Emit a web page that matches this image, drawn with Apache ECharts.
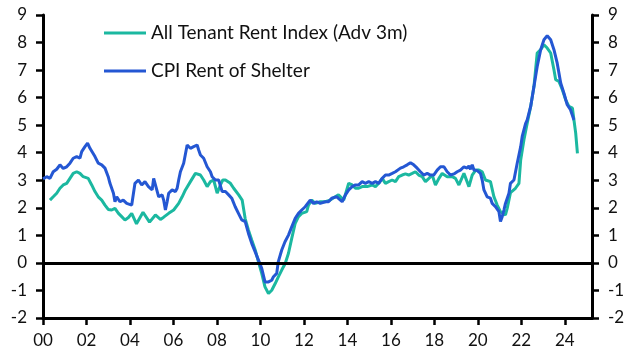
<!DOCTYPE html>
<html>
<head>
<meta charset="utf-8">
<script src="https://cdn.jsdelivr.net/npm/echarts@6/dist/echarts.min.js"></script>
<style>
html,body{margin:0;padding:0;background:#fff;}
#chart{width:631px;height:357px;}
</style>
</head>
<body>
<div id="chart"></div>
<script>
// All Tenant Rent Index (Adv 3m) — [fractional year] and values (%)
const tenantDates = [2000.32,2000.47,2000.63,2000.78,2000.93,2001.09,2001.24,2001.39,2001.55,2001.70,2001.85,2002.08,2002.24,2002.39,2002.54,2002.70,2002.85,2003.00,2003.16,2003.31,2003.47,2003.62,2003.77,2003.93,2004.08,2004.30,2004.60,2004.90,2005.17,2005.40,2005.55,2005.78,2006.01,2006.24,2006.40,2006.55,2006.78,2007.01,2007.09,2007.24,2007.39,2007.55,2007.70,2007.85,2008.01,2008.08,2008.16,2008.27,2008.39,2008.62,2008.77,2009.00,2009.16,2009.30,2009.45,2009.60,2009.76,2009.91,2010.06,2010.21,2010.37,2010.52,2010.68,2010.83,2010.98,2011.14,2011.29,2011.44,2011.60,2011.75,2011.90,2012.13,2012.21,2012.36,2012.52,2012.75,2012.98,2013.21,2013.44,2013.59,2013.83,2014.06,2014.22,2014.37,2014.52,2014.68,2014.91,2015.14,2015.29,2015.44,2015.60,2015.75,2015.90,2016.06,2016.21,2016.36,2016.52,2016.67,2016.82,2016.98,2017.13,2017.28,2017.44,2017.59,2017.75,2017.90,2018.05,2018.21,2018.36,2018.59,2018.82,2018.97,2019.13,2019.36,2019.59,2019.74,2019.90,2020.05,2020.20,2020.35,2020.58,2020.74,2020.89,2021.04,2021.27,2021.35,2021.50,2021.73,2021.89,2021.97,2022.12,2022.27,2022.43,2022.58,2022.73,2022.89,2023.04,2023.19,2023.35,2023.50,2023.58,2023.73,2023.89,2024.04,2024.19,2024.35,2024.42,2024.50,2024.58];
const tenantValues = [2.28,2.40,2.53,2.71,2.83,2.89,3.07,3.25,3.31,3.25,3.13,3.07,2.83,2.59,2.40,2.28,2.10,1.94,1.92,1.98,1.80,1.68,1.56,1.65,1.80,1.42,1.84,1.48,1.74,1.58,1.66,1.80,1.92,2.16,2.40,2.65,2.95,3.25,3.31,3.19,3.01,2.77,2.95,3.01,2.53,2.47,2.83,3.01,3.01,2.89,2.71,2.47,2.28,1.60,1.19,0.83,0.47,0.04,-0.38,-0.87,-1.11,-0.99,-0.75,-0.50,-0.26,-0.02,0.35,0.89,1.44,1.68,1.80,1.86,2.10,2.28,2.16,2.22,2.22,2.28,2.40,2.47,2.28,2.89,2.83,2.71,2.71,2.77,2.77,2.83,2.77,2.89,3.07,2.89,2.95,3.01,2.95,3.13,3.19,3.23,3.19,3.25,3.31,3.19,3.13,2.95,3.07,3.19,2.83,3.07,3.25,3.13,3.13,3.07,2.83,3.25,2.77,3.19,3.37,3.37,3.31,3.01,2.95,2.40,2.10,1.86,1.74,1.98,2.55,2.71,2.89,3.74,4.47,5.07,5.68,6.40,7.62,7.74,7.92,7.80,7.62,7.01,6.65,6.59,6.28,5.92,5.68,5.62,5.19,4.71,3.98];

// CPI Rent of Shelter
const cpiDates = [2000.00,2000.17,2000.32,2000.47,2000.63,2000.78,2000.93,2001.09,2001.24,2001.39,2001.55,2001.62,2001.70,2001.78,2001.93,2002.05,2002.16,2002.24,2002.39,2002.54,2002.70,2002.85,2003.00,2003.08,2003.24,2003.31,2003.39,2003.54,2003.69,2003.85,2004.08,2004.23,2004.39,2004.54,2004.69,2004.85,2005.02,2005.09,2005.17,2005.32,2005.48,2005.55,2005.63,2005.71,2005.78,2005.94,2006.09,2006.17,2006.24,2006.32,2006.47,2006.63,2006.78,2006.93,2007.09,2007.16,2007.24,2007.39,2007.55,2007.70,2007.78,2007.93,2008.08,2008.24,2008.39,2008.54,2008.68,2008.84,2008.99,2009.14,2009.30,2009.45,2009.60,2009.76,2009.91,2010.06,2010.21,2010.37,2010.52,2010.60,2010.75,2010.82,2010.98,2011.13,2011.29,2011.44,2011.60,2011.75,2011.90,2012.06,2012.29,2012.44,2012.59,2012.75,2012.98,2013.13,2013.28,2013.51,2013.76,2013.91,2014.06,2014.22,2014.37,2014.52,2014.68,2014.83,2014.98,2015.14,2015.29,2015.44,2015.60,2015.75,2015.90,2016.06,2016.21,2016.29,2016.44,2016.59,2016.75,2016.90,2017.05,2017.21,2017.36,2017.51,2017.67,2017.82,2017.97,2018.13,2018.28,2018.44,2018.59,2018.74,2018.90,2019.05,2019.20,2019.36,2019.51,2019.59,2019.66,2019.74,2019.82,2019.97,2020.12,2020.20,2020.28,2020.43,2020.58,2020.66,2020.81,2020.97,2021.04,2021.12,2021.20,2021.27,2021.43,2021.50,2021.66,2021.81,2021.97,2022.04,2022.20,2022.27,2022.43,2022.58,2022.73,2022.89,2023.04,2023.19,2023.35,2023.50,2023.65,2023.73,2023.81,2023.96,2024.11,2024.26,2024.42];
const cpiValues = [3.05,3.13,3.07,3.31,3.40,3.56,3.43,3.49,3.62,3.80,3.86,3.92,3.80,4.04,4.22,4.35,4.16,4.10,3.86,3.62,3.56,3.44,3.13,2.89,2.53,2.22,2.40,2.22,2.28,2.16,2.10,2.89,3.01,2.83,2.95,2.77,2.65,3.07,3.01,2.40,2.47,2.28,1.92,2.22,2.53,2.65,2.59,2.71,3.01,3.31,3.62,4.28,4.16,4.22,4.28,4.10,3.92,3.80,3.49,3.31,3.13,3.01,3.01,2.59,2.59,2.47,2.35,2.04,1.80,1.56,1.50,1.07,0.71,0.40,0.10,-0.20,-0.69,-0.69,-0.63,-0.50,-0.38,0.04,0.47,0.77,1.01,1.31,1.62,1.80,1.92,2.04,2.28,2.16,2.22,2.16,2.22,2.22,2.35,2.40,2.22,2.47,2.65,2.77,2.83,2.83,2.95,2.89,2.95,2.89,2.95,2.89,3.07,3.19,3.19,3.25,3.31,3.25,3.44,3.49,3.56,3.64,3.56,3.44,3.31,3.19,3.25,3.19,3.19,3.37,3.49,3.49,3.31,3.19,3.23,3.31,3.37,3.49,3.44,3.52,3.40,3.56,3.37,3.35,3.25,3.01,2.65,2.40,2.35,2.16,2.04,1.86,1.50,1.68,1.92,2.16,2.53,2.89,3.01,3.62,4.22,4.59,5.07,5.19,5.68,6.40,7.13,7.74,8.10,8.25,8.10,7.74,7.25,6.89,6.53,6.16,5.74,5.56,5.19];

const xTickYears = [2000,2002,2004,2006,2008,2010,2012,2014,2016,2018,2020,2022,2024];
const yTicks = [-2,-1,0,1,2,3,4,5,6,7,8,9];

const tenantName = 'All Tenant Rent Index (Adv 3m)';
const cpiName = 'CPI Rent of Shelter';

const zip = (xs, ys) => xs.map((x, i) => [x, ys[i]]);

const FONT = 'Lato';
const chart = echarts.init(document.getElementById('chart'), null, {renderer: 'canvas'});
const yAxisBase = {
  type: 'value', min: yTicks[0], max: yTicks[yTicks.length - 1], interval: 1,
  axisLine: {show: true, lineStyle: {color: '#000', width: 3}},
  axisTick: {show: true, length: 7, lineStyle: {color: '#000', width: 2.5}},
  axisLabel: {color: '#111', fontFamily: FONT, fontSize: 17, margin: 16},
  splitLine: {show: false}
};
chart.setOption({
  animation: false,
  backgroundColor: '#fff',
  grid: {left: 43, right: 39, top: 15, bottom: 39, containLabel: false},
  legend: {
    left: 104, top: 22, orient: 'vertical', icon: 'rect', padding: 0,
    itemWidth: 42, itemHeight: 3, itemGap: 16,
    textStyle: {color: '#111', fontFamily: FONT, fontSize: 19, lineHeight: 22},
    data: [tenantName, cpiName]
  },
  xAxis: {
    type: 'value', min: 2000, max: 2025.25, interval: 2,
    axisLine: {show: true, onZero: false, lineStyle: {color: '#000', width: 3}},
    axisTick: {show: true, length: 7, lineStyle: {color: '#000', width: 2.5}, customValues: xTickYears},
    axisLabel: {
      color: '#111', fontFamily: FONT, fontSize: 17, margin: 14,
      customValues: xTickYears,
      formatter: v => String(Math.round(v) % 100).padStart(2, '0')
    },
    splitLine: {show: false}
  },
  yAxis: [
    Object.assign({}, yAxisBase, {position: 'left'}),
    Object.assign({}, yAxisBase, {position: 'right'})
  ],
  series: [
    {
      name: tenantName, type: 'line', yAxisIndex: 0,
      data: zip(tenantDates, tenantValues),
      symbol: 'none', smooth: false,
      lineStyle: {color: '#1bb8a0', width: 3},
      itemStyle: {color: '#1bb8a0'},
      markLine: {
        silent: true, symbol: ['none', 'none'], label: {show: false},
        lineStyle: {color: '#000', width: 3, type: 'solid'},
        data: [{yAxis: 0}]
      }
    },
    {
      name: cpiName, type: 'line', yAxisIndex: 0,
      data: zip(cpiDates, cpiValues),
      symbol: 'none', smooth: false,
      lineStyle: {color: '#2457d3', width: 3},
      itemStyle: {color: '#2457d3'}
    }
  ]
});
</script>
</body>
</html>
